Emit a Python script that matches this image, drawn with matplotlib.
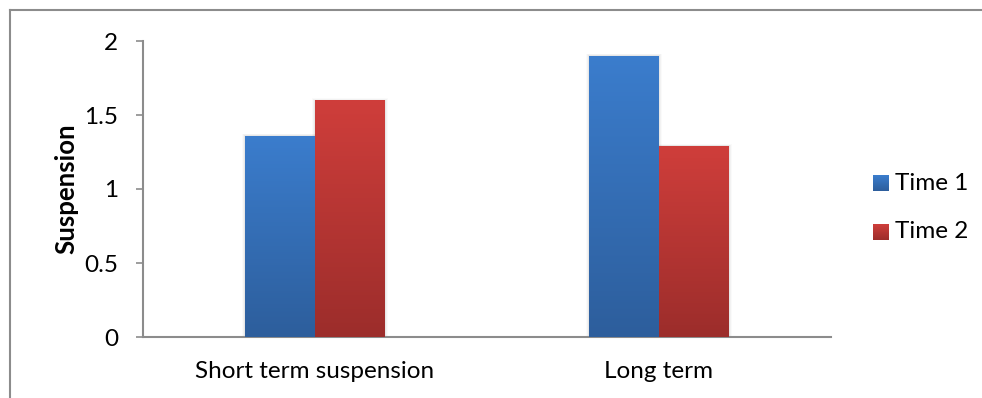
import numpy as np
import matplotlib
matplotlib.use("Agg")
import matplotlib.pyplot as plt
from matplotlib.colors import LinearSegmentedColormap
from matplotlib.patches import Rectangle
from matplotlib.lines import Line2D

categories = ["Short term suspension", "Long term"]
series_names = ["Time 1", "Time 2"]
time1 = [1.36, 1.90]
time2 = [1.60, 1.29]
yticks = [0, 0.5, 1, 1.5, 2]
ytick_labels = ["0", "0.5", "1", "1.5", "2"]

plt.rcParams['font.family'] = ['Lato', 'DejaVu Sans']

W, H = 982, 398
fig = plt.figure(figsize=(W / 100, H / 100), dpi=100)
fig.patch.set_facecolor("white")

# outer chart border
fig.add_artist(Line2D([10 / W, 10 / W], [0, 1 - 10 / H], transform=fig.transFigure,
                      color="#8c8c8c", lw=1.5))
fig.add_artist(Line2D([10 / W, 1.0], [1 - 10 / H, 1 - 10 / H], transform=fig.transFigure,
                      color="#8c8c8c", lw=1.5))

ax = fig.add_axes([143 / W, 1 - 337 / H, (831 - 143) / W, (337 - 41) / H])
ax.set_xlim(-0.5, 1.5)
ax.set_ylim(0, 2)

blue_cmap = LinearSegmentedColormap.from_list("b", ["#2d5e9c", "#3b7dcd"])
red_cmap = LinearSegmentedColormap.from_list("r", ["#9c2d2b", "#cf3e3b"])

bw = 0.203
x = np.arange(len(categories))
grad = np.linspace(0, 1, 256).reshape(-1, 1)

for vals, off, cmap, name in [(time1, -bw / 2, blue_cmap, series_names[0]),
                              (time2, bw / 2, red_cmap, series_names[1])]:
    bars = ax.bar(x + off, vals, width=bw, color="none", edgecolor="none", zorder=3)
    for b in bars:
        bx, by = b.get_x(), b.get_y()
        bwid, bh = b.get_width(), b.get_height()
        # soft shadow
        for k, a in enumerate([0.045, 0.03, 0.02]):
            d = 0.003 * (k + 1)
            ax.add_patch(Rectangle((bx - d, by), bwid + 2 * d, bh + d * 1.5,
                                   facecolor="black", alpha=a, edgecolor="none", zorder=2))
        im = ax.imshow(grad, cmap=cmap, origin="lower", aspect="auto",
                       extent=[bx, bx + bwid, by, by + bh], zorder=3)
        im.set_clip_path(b)
    ax.set_xlim(-0.5, 1.5)
    ax.set_ylim(0, 2)

ax.set_xticks(x)
ax.set_xticklabels(categories, fontsize=17.5)
ax.tick_params(axis="x", length=0, pad=17)
ax.set_yticks(yticks)
ax.set_yticklabels(ytick_labels, fontsize=17.5)
ax.tick_params(axis="y", length=5, width=1.2, color="#8c8c8c", pad=13)

for s in ["top", "right"]:
    ax.spines[s].set_visible(False)
for s in ["left", "bottom"]:
    ax.spines[s].set_color("#8c8c8c")
    ax.spines[s].set_linewidth(1.5)

ax.set_ylabel("Suspension", fontsize=18.5, fontweight="bold")
ax.yaxis.set_label_coords((78 - 143) / 688, 0.5)

# legend
for i, (name, c1, c2) in enumerate([(series_names[0], "#2d5e9c", "#3b7dcd"),
                                     (series_names[1], "#9c2d2b", "#cf3e3b")]):
    ycen = [183, 232][i]
    cm = LinearSegmentedColormap.from_list("l", [c1, c2])
    lax = fig.add_axes([873 / W, 1 - (ycen + 8) / H, 16 / W, 16 / H])
    lax.imshow(grad, cmap=cm, origin="lower", aspect="auto")
    lax.axis("off")
    fig.text(895 / W, 1 - ycen / H, name, fontsize=17.5, va="center", ha="left")

fig.savefig("out.png", dpi=100, facecolor="white")
